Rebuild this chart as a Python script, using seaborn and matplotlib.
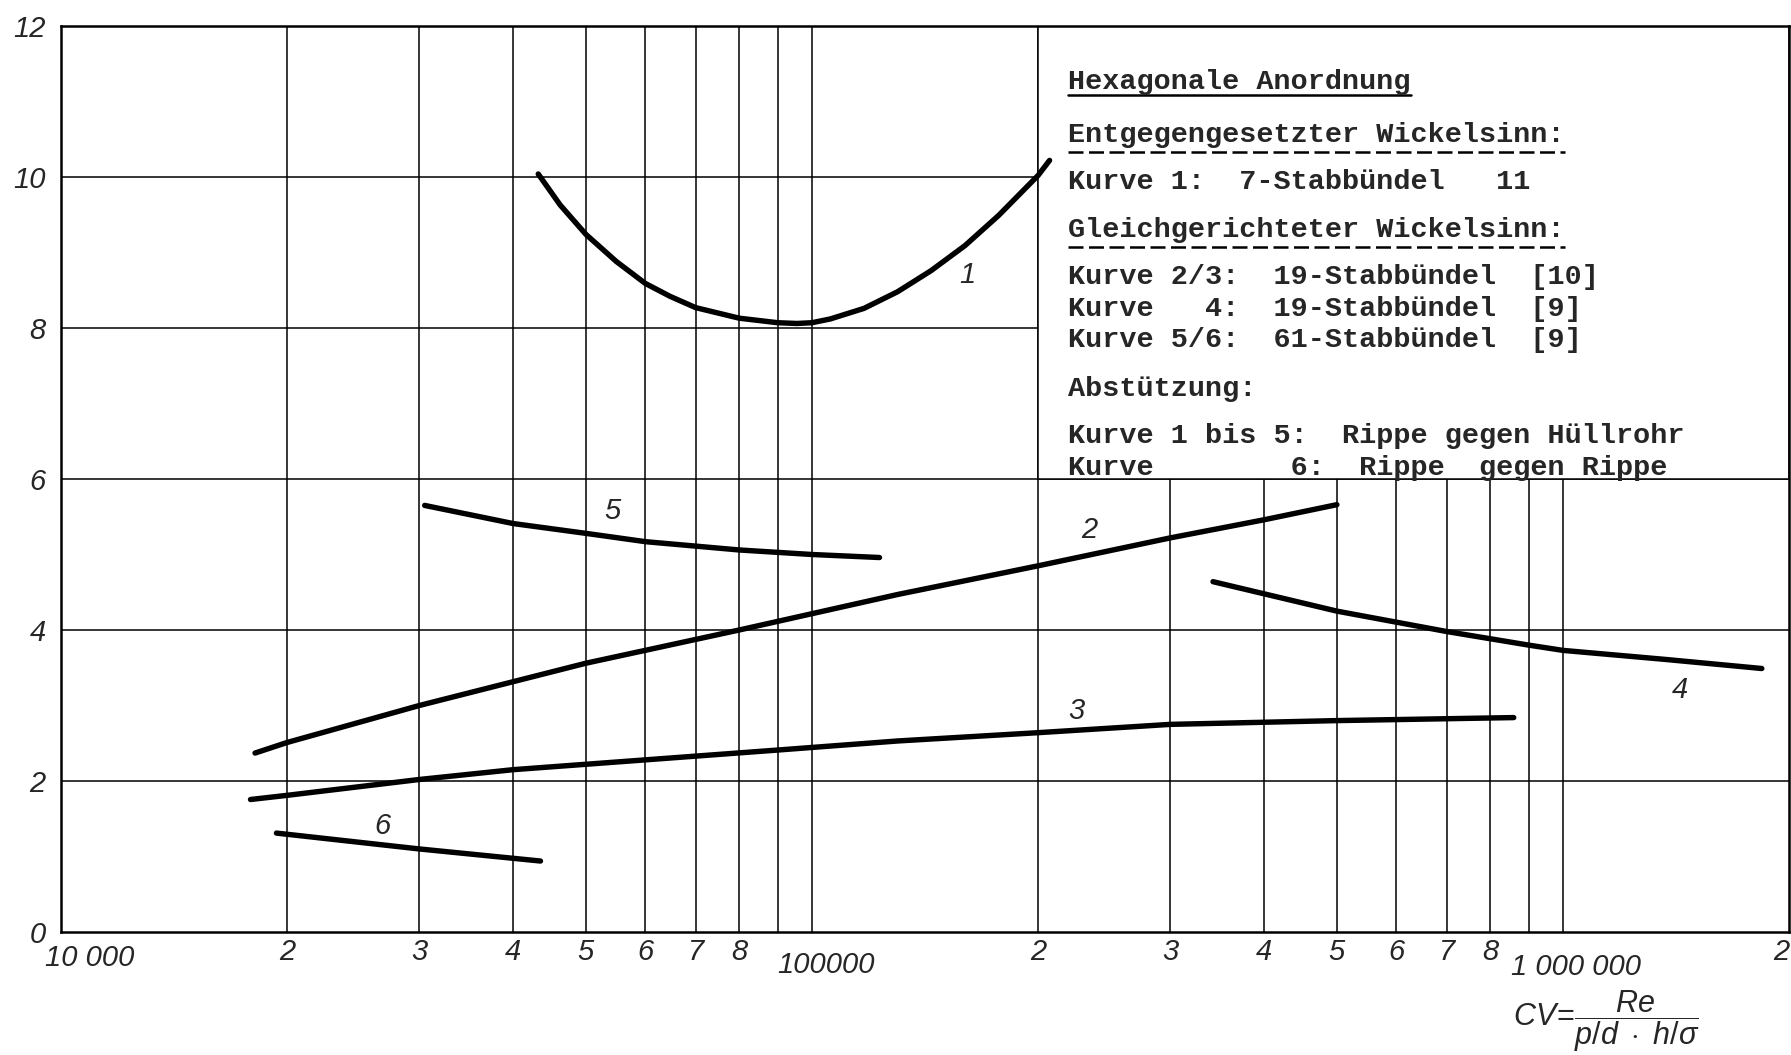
import matplotlib
matplotlib.use("Agg")
import matplotlib.pyplot as plt
import pandas as pd
import seaborn as sns
from matplotlib.patches import Rectangle
from matplotlib.lines import Line2D

# --- Kurven: Wert über CV = Re / (p/d · h/σ) ---
kurve1_cv = [43200, 46200, 50000, 54900, 60000, 64700, 70000, 80000, 90000, 95500,
             100000, 105800, 117300, 130000, 144100, 159800, 177200, 200000, 207200]
kurve1_y = [10.04, 9.63, 9.24, 8.88, 8.59, 8.42, 8.27, 8.13, 8.07, 8.06,
            8.07, 8.12, 8.26, 8.48, 8.76, 9.09, 9.49, 10.02, 10.22]

kurve2_cv = [18130, 20000, 30000, 50000, 80000, 130000, 200000, 300000, 400000, 500000]
kurve2_y = [2.37, 2.51, 3.00, 3.56, 4.00, 4.47, 4.85, 5.22, 5.46, 5.66]

kurve3_cv = [17880, 20000, 30000, 40000, 60000, 90000, 130000, 200000, 300000, 500000, 860000]
kurve3_y = [1.755, 1.81, 2.02, 2.15, 2.28, 2.41, 2.53, 2.64, 2.75, 2.80, 2.84]

kurve4_cv = [342000, 500000, 700000, 900000, 1000000, 1370000, 1840000]
kurve4_y = [4.64, 4.25, 3.98, 3.80, 3.73, 3.61, 3.49]

kurve5_cv = [30500, 40000, 50000, 60000, 80000, 100000, 123000]
kurve5_y = [5.65, 5.41, 5.28, 5.17, 5.06, 5.00, 4.96]

kurve6_cv = [19360, 30000, 43500]
kurve6_y = [1.31, 1.10, 0.94]

kurven_nr = ["1", "2", "3", "4", "5", "6"]
kurven_label_cv = [161000, 234000, 225000, 1430000, 54300, 26800]
kurven_label_y = [8.70, 5.32, 2.93, 3.20, 5.57, 1.41]

# Achsenbeschriftung
x_tick_pos = [2e4, 3e4, 4e4, 5e4, 6e4, 7e4, 8e4, 9e4,
              2e5, 3e5, 4e5, 5e5, 6e5, 7e5, 8e5, 9e5, 2e6]
x_tick_txt = ["2", "3", "4", "5", "6", "7", "8", "",
              "2", "3", "4", "5", "6", "7", "8", "", "2"]
dekaden_pos = [1e4, 1e5, 1e6]
dekaden_txt = ["10 000", "100000", "1 000 000"]
y_tick_pos = [0, 2, 4, 6, 8, 10, 12]
y_tick_txt = ["0", "2", "4", "6", "8", "10", "12"]

legende = [
    "Hexagonale Anordnung",
    "Entgegengesetzter Wickelsinn:",
    "Kurve 1:  7-Stabbündel   11",
    "Gleichgerichteter Wickelsinn:",
    "Kurve 2/3:  19-Stabbündel  [10]",
    "Kurve   4:  19-Stabbündel  [9]",
    "Kurve 5/6:  61-Stabbündel  [9]",
    "Abstützung:",
    "Kurve 1 bis 5:  Rippe gegen Hüllrohr",
    "Kurve        6:  Rippe  gegen Rippe",
]

df = pd.concat([
    pd.DataFrame({"cv": cv, "wert": y, "kurve": nr})
    for nr, cv, y in zip(kurven_nr,
                         [kurve1_cv, kurve2_cv, kurve3_cv, kurve4_cv, kurve5_cv, kurve6_cv],
                         [kurve1_y, kurve2_y, kurve3_y, kurve4_y, kurve5_y, kurve6_y])
], ignore_index=True)

sns.set_style("white")
plt.rcParams["font.family"] = ["Liberation Sans", "DejaVu Sans"]
plt.rcParams["mathtext.fontset"] = "custom"
plt.rcParams["mathtext.it"] = "Liberation Sans:italic"
plt.rcParams["mathtext.rm"] = "Liberation Sans"
plt.rcParams["mathtext.sf"] = "Liberation Sans"

W, H = 1791, 1055
fig = plt.figure(figsize=(W / 100, H / 100), dpi=100)
fig.patch.set_facecolor("white")
ax = fig.add_axes([61 / W, 1 - 932 / H, 1728 / W, 906 / H])
ax.set_xscale("log")
ax.set_xlim(1e4, 2e6)
ax.set_ylim(0, 12)

# Netz: logarithmisch in x, linear in y
grid_lw = 1.1
for d in (1e4, 1e5):
    for m in range(2, 11):
        ax.axvline(m * d, color="black", lw=grid_lw, zorder=0.5)
for yv in y_tick_pos[1:-1]:
    ax.axhline(yv, color="black", lw=grid_lw, zorder=0.5)

# Feld für die Legende oben rechts
ax.add_patch(Rectangle((2e5, 6), 2e6 - 2e5, 6, facecolor="white",
                       edgecolor="black", lw=grid_lw, zorder=0.8))

sns.lineplot(data=df, x="cv", y="wert", units="kurve", estimator=None,
             sort=False, color="black", lw=3.9, ax=ax, zorder=2,
             solid_capstyle="round", solid_joinstyle="round")
ax.set_xlabel("")
ax.set_ylabel("")

for nr, cx, cy in zip(kurven_nr, kurven_label_cv, kurven_label_y):
    ax.text(cx, cy, nr, fontsize=21, fontstyle="italic", ha="center",
            va="center", zorder=3)

for s in ax.spines.values():
    s.set_linewidth(1.8)
    s.set_color("black")
    s.set_visible(True)

ax.xaxis.set_minor_locator(matplotlib.ticker.NullLocator())
ax.set_xticks(x_tick_pos)
ax.set_xticklabels(x_tick_txt, fontsize=21, fontstyle="italic")
ax.get_xticklabels()[-1].set_ha("right")
ax.set_yticks(y_tick_pos)
ax.set_yticklabels(y_tick_txt, fontsize=21, fontstyle="italic")
ax.tick_params(axis="x", length=0, pad=4)
ax.tick_params(axis="y", length=0, pad=11)

dekaden_offset = [(29, -26), (14, -33), (13, -35)]
for pos, txt, off in zip(dekaden_pos, dekaden_txt, dekaden_offset):
    ax.annotate(txt, xy=(pos, 0), xycoords="data", xytext=off,
                textcoords="offset pixels", ha="center", va="center",
                fontsize=21, fontstyle="italic", annotation_clip=False)

fig.text(1606 / W, 1 - 1021 / H,
         r"$CV\!=\!\dfrac{Re}{p/d\ \cdot\ h/\sigma}$",
         ha="center", va="center", fontsize=22)

# Legendentext in Schreibmaschinenschrift
zeilen_y = [89, 142, 189, 237, 284, 316, 347, 396, 443, 475]
texte = []
for txt, yy in zip(legende, zeilen_y):
    t = fig.text(1068 / W, 1 - yy / H, txt, family=["Liberation Mono", "DejaVu Sans Mono"],
                 fontsize=20.5, fontweight="bold", ha="left", va="baseline", zorder=4)
    texte.append(t)

fig.canvas.draw()
renderer = fig.canvas.get_renderer()
unterstrichen = [(0, 95, "solid"), (1, 152, "dashed"), (3, 247, "dashed")]
for idx, uy, stil in unterstrichen:
    bb = texte[idx].get_window_extent(renderer)
    x0, x1 = bb.x0 / W, bb.x1 / W
    yl = 1 - uy / H
    if stil == "solid":
        line = Line2D([x0, x1], [yl, yl], transform=fig.transFigure,
                      color="black", lw=1.8)
    else:
        line = Line2D([x0, x1], [yl, yl], transform=fig.transFigure,
                      color="black", lw=1.8, dashes=(6, 2.2))
    fig.add_artist(line)

fig.savefig("out.png", dpi=100, facecolor="white")
